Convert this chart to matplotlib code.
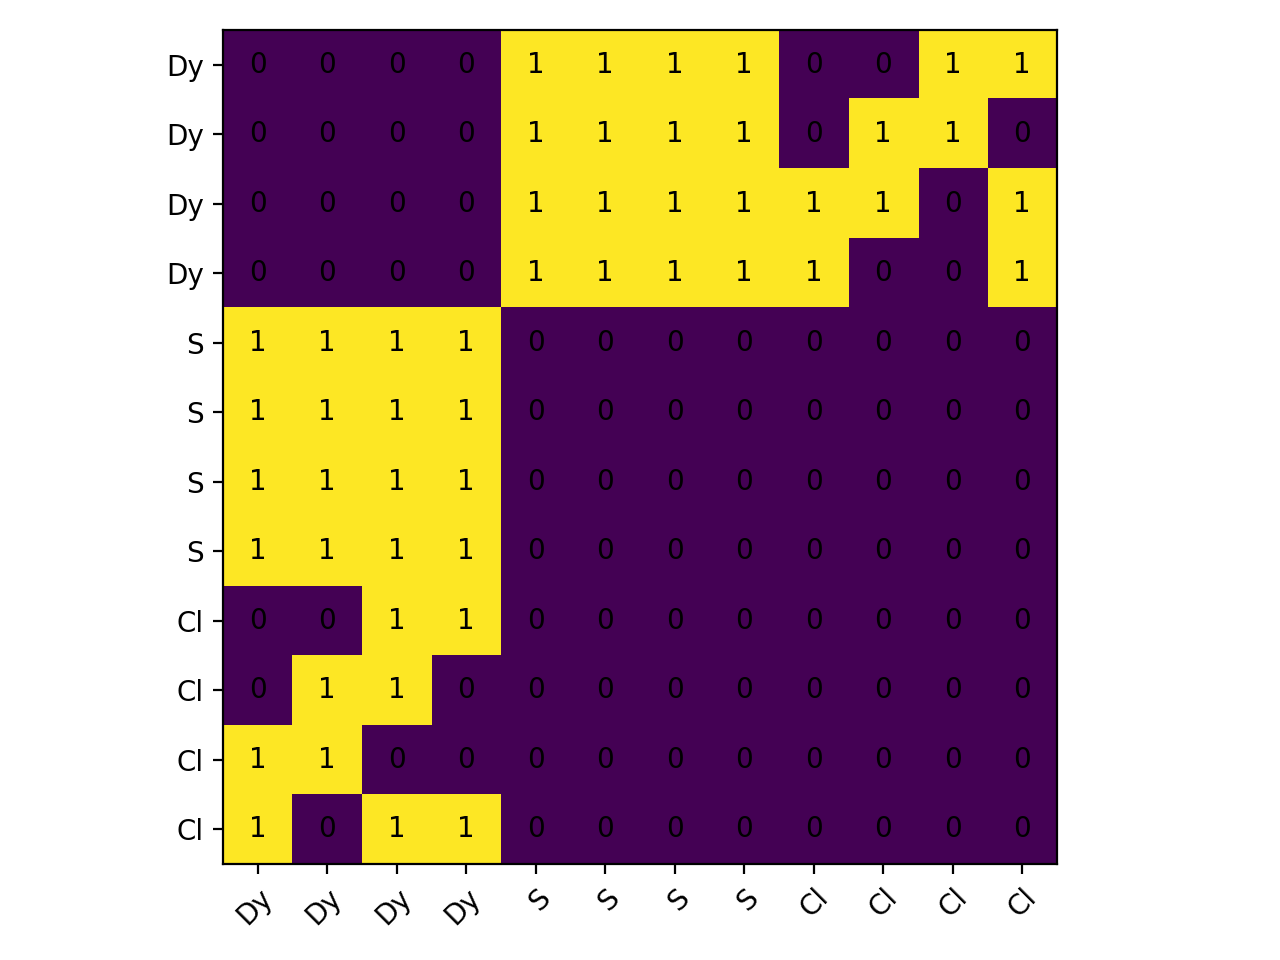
import matplotlib
matplotlib.use('Agg')
import matplotlib.pyplot as plt
import numpy as np

# Labels
labels = ['Dy', 'Dy', 'Dy', 'Dy', 'S', 'S', 'S', 'S', 'Cl', 'Cl', 'Cl', 'Cl']

# Matrix values (rows top to bottom)
matrix = np.array([
    [0, 0, 0, 0, 1, 1, 1, 1, 0, 0, 1, 1],
    [0, 0, 0, 0, 1, 1, 1, 1, 0, 1, 1, 0],
    [0, 0, 0, 0, 1, 1, 1, 1, 1, 1, 0, 1],
    [0, 0, 0, 0, 1, 1, 1, 1, 1, 0, 0, 1],
    [1, 1, 1, 1, 0, 0, 0, 0, 0, 0, 0, 0],
    [1, 1, 1, 1, 0, 0, 0, 0, 0, 0, 0, 0],
    [1, 1, 1, 1, 0, 0, 0, 0, 0, 0, 0, 0],
    [1, 1, 1, 1, 0, 0, 0, 0, 0, 0, 0, 0],
    [0, 0, 1, 1, 0, 0, 0, 0, 0, 0, 0, 0],
    [0, 1, 1, 0, 0, 0, 0, 0, 0, 0, 0, 0],
    [1, 1, 0, 0, 0, 0, 0, 0, 0, 0, 0, 0],
    [1, 0, 1, 1, 0, 0, 0, 0, 0, 0, 0, 0],
])


def main():
    fig, ax = plt.subplots(figsize=(6.4, 4.8), dpi=200)
    ax.imshow(matrix, cmap='viridis')

    ax.set_xticks(np.arange(len(labels)))
    ax.set_yticks(np.arange(len(labels)))
    ax.set_xticklabels(labels)
    ax.set_yticklabels(labels)
    plt.setp(ax.get_xticklabels(), rotation=45, ha='right', rotation_mode='anchor')

    # annotate every cell
    for i in range(len(labels)):
        for j in range(len(labels)):
            ax.text(j, i, matrix[i, j], ha='center', va='center', color='k')

    fig.tight_layout()
    plt.savefig('out.png')


if __name__ == '__main__':
    main()
